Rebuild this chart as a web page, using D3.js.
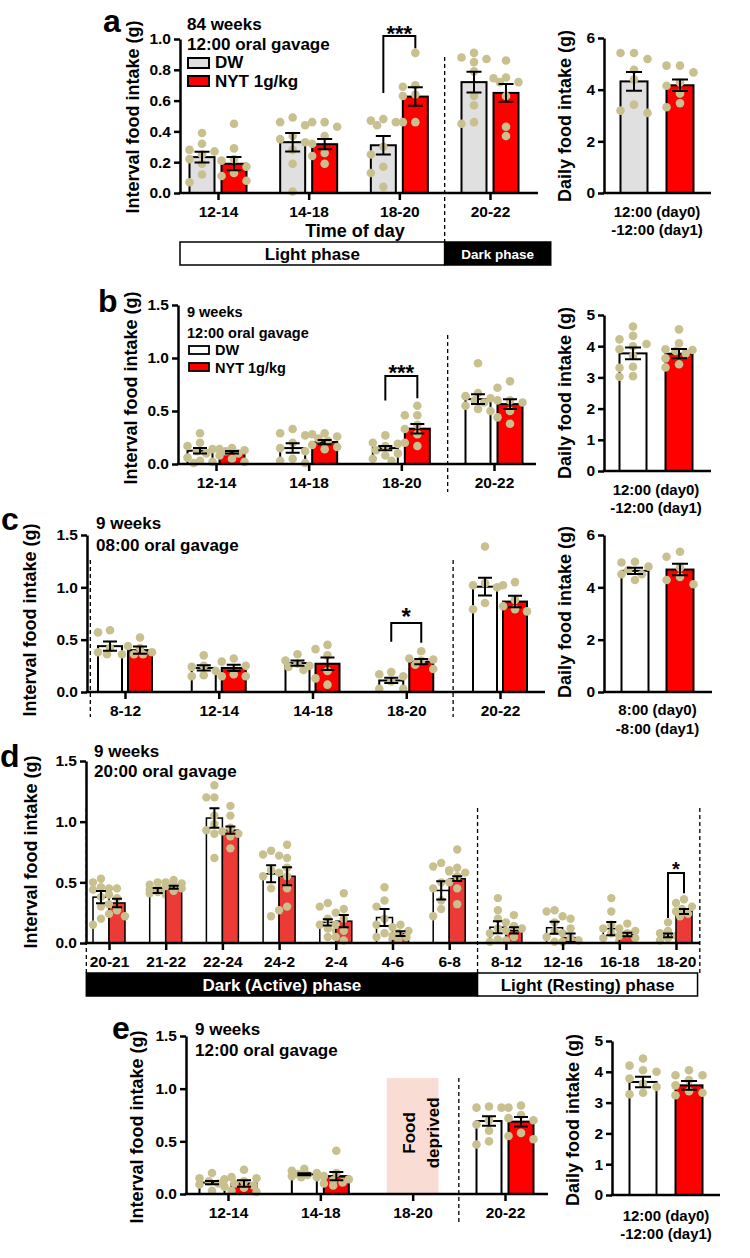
<!DOCTYPE html>
<html>
<head>
<meta charset="utf-8">
<script src="https://cdn.jsdelivr.net/npm/d3@7"></script>
<style>
  body { margin: 0; background: #fff; }
  svg text { font-family: "Liberation Sans", Arial, sans-serif; font-weight: 700; }
</style>
</head>
<body>
<script>
// ---------- panel a : 84 weeks, 12:00 gavage ----------
const catsA = ['12-14', '14-18', '18-20', '20-22'];
const dwMeanA = [0.233, 0.33, 0.31, 0.72];
const dwSemA = [0.035, 0.06, 0.06, 0.067];
const nytMeanA = [0.19, 0.317, 0.626, 0.65];
const nytSemA = [0.043, 0.033, 0.06, 0.058];
const dwPtsA = [[0.39, 0.32, 0.28, 0.27, 0.25, 0.22, 0.19, 0.12, 0.07],
  [0.49, 0.46, 0.44, 0.37, 0.35, 0.33, 0.28, 0.19, 0.01],
  [0.48, 0.47, 0.46, 0.44, 0.30, 0.25, 0.17, 0.13, 0.04],
  [0.91, 0.88, 0.87, 0.85, 0.79, 0.63, 0.57, 0.46, 0.45]];
const nytPtsA = [[0.45, 0.29, 0.22, 0.21, 0.17, 0.13, 0.11, 0.08],
  [0.46, 0.46, 0.43, 0.37, 0.32, 0.26, 0.24, 0.19],
  [0.91, 0.70, 0.69, 0.64, 0.63, 0.46, 0.46],
  [0.86, 0.75, 0.745, 0.72, 0.72, 0.63, 0.43, 0.37]];
const sigA = ['18-20', '***', 1.02, 0.65, 0.94];
const dailyMeanA = [4.32, 4.17];
const dailySemA = [0.36, 0.22];
const dailyPtsA = [[5.42, 5.42, 5.19, 4.77, 4.39, 3.42, 3.19, 3.10],
  [4.93, 4.93, 4.67, 4.28, 4.15, 3.85, 3.48, 3.32]];

// ---------- panel b : 9 weeks, 12:00 gavage ----------
const catsB = ['12-14', '14-18', '18-20', '20-22'];
const dwMeanB = [0.125, 0.15, 0.15, 0.612];
const dwSemB = [0.025, 0.045, 0.02, 0.045];
const nytMeanB = [0.11, 0.207, 0.333, 0.565];
const nytSemB = [0.012, 0.02, 0.045, 0.045];
const dwPtsB = [[0.29, 0.2, 0.17, 0.14, 0.12, 0.1, 0.06, 0.03, 0.02, 0.01],
  [0.33, 0.29, 0.27, 0.2, 0.15, 0.12, 0.05, 0.03, 0.01],
  [0.27, 0.2, 0.19, 0.17, 0.13, 0.1, 0.08, 0.05, 0.03],
  [0.95, 0.67, 0.64, 0.62, 0.6, 0.58, 0.55, 0.52, 0.5]];
const nytPtsB = [[0.15, 0.14, 0.13, 0.12, 0.1, 0.08, 0.05, 0.02],
  [0.29, 0.28, 0.26, 0.24, 0.22, 0.18, 0.16, 0.14],
  [0.55, 0.46, 0.46, 0.37, 0.33, 0.28, 0.2, 0.17],
  [0.78, 0.72, 0.6, 0.6, 0.58, 0.5, 0.44, 0.38]];
const sigB = ['18-20', '***', 0.83, 0.60, 0.62];
const dailyMeanB = [3.77, 3.76];
const dailySemB = [0.19, 0.15];
const dailyPtsB = [[4.63, 4.33, 4.22, 4.07, 4.0, 3.9, 3.69, 3.34, 3.31, 3.04, 3.02],
  [4.54, 4.09, 3.9, 3.88, 3.85, 3.77, 3.61, 3.42, 3.32]];

// ---------- panel c : 9 weeks, 08:00 gavage ----------
const catsC = ['8-12', '12-14', '14-18', '18-20', '20-22'];
const dwMeanC = [0.438, 0.23, 0.276, 0.11, 1.006];
const dwSemC = [0.045, 0.025, 0.025, 0.025, 0.085];
const nytMeanC = [0.40, 0.23, 0.27, 0.29, 0.864];
const nytSemC = [0.035, 0.03, 0.06, 0.025, 0.055];
const dwPtsC = [[0.59, 0.57, 0.42, 0.38, 0.36, 0.36],
  [0.35, 0.25, 0.24, 0.2, 0.16, 0.15],
  [0.36, 0.3, 0.27, 0.25, 0.24, 0.21],
  [0.19, 0.17, 0.15, 0.1, 0.03, 0.03],
  [1.39, 1.04, 1.02, 1.0, 0.85, 0.79]];
const nytPtsC = [[0.52, 0.44, 0.42, 0.38, 0.36, 0.36],
  [0.32, 0.29, 0.25, 0.17, 0.15, 0.15],
  [0.45, 0.41, 0.35, 0.2, 0.13, 0.07],
  [0.39, 0.32, 0.31, 0.3, 0.26, 0.22],
  [1.05, 1.02, 0.88, 0.82, 0.79, 0.77]];
const sigC = ['18-20', '*', 0.66, 0.48, 0.47];
const dailyMeanC = [4.63, 4.68];
const dailySemC = [0.12, 0.22];
const dailyPtsC = [[4.98, 4.95, 4.79, 4.66, 4.5, 4.5, 4.28],
  [5.36, 5.17, 4.76, 4.4, 4.28, 4.12]];

// ---------- panel d : 9 weeks, 20:00 gavage ----------
const catsD = ['20-21', '21-22', '22-24', '24-2', '2-4', '4-6', '6-8', '8-12', '12-16', '16-18', '18-20'];
const dwMeanD = [0.378, 0.433, 1.03, 0.57, 0.17, 0.21, 0.433, 0.13, 0.126, 0.118, 0.063];
const dwSemD = [0.05, 0.02, 0.08, 0.07, 0.025, 0.07, 0.075, 0.05, 0.05, 0.055, 0.015];
const nytMeanD = [0.33, 0.46, 0.93, 0.55, 0.18, 0.077, 0.53, 0.104, 0.044, 0.07, 0.26];
const nytSemD = [0.035, 0.012, 0.03, 0.075, 0.05, 0.02, 0.02, 0.025, 0.035, 0.015, 0.02];
const dwPtsD = [[0.53, 0.5, 0.46, 0.45, 0.44, 0.38, 0.3, 0.2, 0.15],
  [0.5, 0.48, 0.46, 0.45, 0.44, 0.43, 0.42, 0.41, 0.40],
  [1.3, 1.2, 1.2, 1.05, 0.98, 0.93, 0.9, 0.7],
  [0.76, 0.73, 0.72, 0.6, 0.55, 0.45, 0.22],
  [0.33, 0.3, 0.2, 0.15, 0.12, 0.1, 0.05],
  [0.46, 0.35, 0.3, 0.2, 0.15, 0.08, 0.05, 0.03],
  [0.66, 0.63, 0.6, 0.5, 0.45, 0.35, 0.28, 0.22],
  [0.37, 0.27, 0.2, 0.12, 0.08, 0.03, 0.01],
  [0.27, 0.26, 0.22, 0.17, 0.1, 0.05, 0.01],
  [0.37, 0.26, 0.15, 0.12, 0.08, 0.04, 0.02],
  [0.17, 0.1, 0.08, 0.06, 0.04, 0.02]];
const nytPtsD = [[0.45, 0.4, 0.37, 0.32, 0.27, 0.24, 0.22],
  [0.52, 0.5, 0.49, 0.48, 0.47, 0.45, 0.43],
  [1.13, 1.05, 0.95, 0.92, 0.9, 0.88, 0.78],
  [0.81, 0.7, 0.62, 0.58, 0.55, 0.45, 0.3, 0.27],
  [0.41, 0.28, 0.25, 0.2, 0.15, 0.1, 0.05, 0.02],
  [0.15, 0.13, 0.1, 0.08, 0.06, 0.05, 0.03],
  [0.77, 0.62, 0.59, 0.58, 0.55, 0.5, 0.45, 0.32],
  [0.23, 0.17, 0.14, 0.12, 0.1, 0.05, 0.02],
  [0.2, 0.12, 0.08, 0.04, 0.02, 0.01],
  [0.16, 0.12, 0.1, 0.08, 0.06, 0.04],
  [0.36, 0.33, 0.3, 0.28, 0.26, 0.24, 0.22]];
const sigD = ['18-20', '*', 0.577, 0.206, 0.41];

// ---------- panel e : 9 weeks, 12:00 gavage, food deprived 18-20 ----------
const catsE = ['12-14', '14-18', '18-20', '20-22'];
const dwMeanE = [0.108, 0.187, null, 0.693];
const dwSemE = [0.015, 0.01, null, 0.045];
const nytMeanE = [0.10, 0.17, null, 0.687];
const nytSemE = [0.03, 0.04, null, 0.045];
const dwPtsE = [[0.2, 0.15, 0.14, 0.12, 0.1, 0.09, 0.07, 0.03],
  [0.24, 0.22, 0.2, 0.19, 0.18, 0.17, 0.16, 0.16],
  [],
  [0.83, 0.82, 0.82, 0.7, 0.66, 0.6, 0.5, 0.47]];
const nytPtsE = [[0.23, 0.16, 0.15, 0.12, 0.1, 0.08, 0.06, 0.03, 0.02],
  [0.41, 0.2, 0.17, 0.14, 0.13, 0.11, 0.1, 0.08],
  [],
  [0.84, 0.82, 0.75, 0.72, 0.7, 0.58, 0.55, 0.52]];
const deprivedE = ['18-20', 1.10];
const dailyMeanE = [3.67, 3.56];
const dailySemE = [0.17, 0.14];
const dailyPtsE = [[4.43, 4.2, 4.05, 4.0, 3.78, 3.62, 3.51, 3.32, 3.27],
  [4.05, 3.89, 3.89, 3.73, 3.56, 3.37, 3.32, 3.24]];

const RED = '#ff0000';
const DOT = '#c9c08f';

const svg = d3.select('body').append('svg')
  .attr('width', 750)
  .attr('height', 1258)
  .style('background-color', 'white');

function txt(x, y, s, size, opt) {
  opt = opt || {};
  const t = svg.append('text')
    .attr('x', x).attr('y', y)
    .attr('font-size', size)
    .attr('text-anchor', opt.anchor || 'start')
    .attr('fill', opt.fill || '#000')
    .text(s);
  if (opt.rot) t.attr('transform', `rotate(-90,${x},${y})`);
  return t;
}

// spread dots sideways like prism does (deterministic, no random)
function spread(vals, y, half, r) {
  const placed = [];
  const cands = [0, -1, 1, -0.5, 0.5, -0.75, 0.75, -0.25, 0.25];
  vals.slice().sort((a, b) => b - a).forEach(v => {
    const py = y(v);
    let best = 0, bestOv = Infinity;
    for (const k of cands) {
      const c = k * half;
      let ov = 0;
      placed.forEach(p => {
        const dd = Math.hypot(p.dx - c, p.py - py);
        if (dd < 2 * r) ov += 2 * r - dd;
      });
      if (ov === 0) { best = c; bestOv = 0; break; }
      if (ov < bestOv) { bestOv = ov; best = c; }
    }
    placed.push({ v: v, dx: best, py: py });
  });
  return placed;
}

function yAxis(g, y, ticks, fmt, size) {
  g.call(d3.axisLeft(y).tickValues(ticks).tickFormat(d3.format(fmt))
      .tickSize(6).tickPadding(3).tickSizeOuter(0))
    .attr('font-family', null).attr('font-size', null);
  g.select('.domain').attr('stroke-width', 2.5);
  g.selectAll('.tick line').attr('stroke-width', 2.5);
  g.selectAll('.tick text').attr('font-size', size).attr('fill', '#000');
}

// one group of bars + dots + error bars
function drawSeries(g, x, y, cats, means, sems, pts, off, bw, fill, cap, r, sw) {
  cats.forEach((c, i) => {
    if (means[i] == null) return;
    const cx = x(c) + off;
    g.append('rect')
      .attr('x', cx - bw / 2).attr('y', y(means[i]))
      .attr('width', bw).attr('height', y(0) - y(means[i]))
      .attr('fill', fill).attr('stroke', '#000').attr('stroke-width', sw);
    spread(pts[i], y, bw / 2, r).forEach(p => {
      g.append('circle').attr('cx', cx + p.dx).attr('cy', p.py).attr('r', r).attr('fill', DOT);
    });
    const hi = y(means[i] + sems[i]), lo = y(means[i] - sems[i]);
    g.append('path')
      .attr('d', `M${cx},${lo}V${hi}M${cx - cap / 2},${hi}H${cx + cap / 2}M${cx - cap / 2},${lo}H${cx + cap / 2}`)
      .attr('stroke', '#000').attr('stroke-width', 2).attr('fill', 'none');
  });
}

function mainPanel(o) {
  const y = d3.scaleLinear().domain([0, o.yMax]).range([o.y0, o.yTop]);
  const x = d3.scalePoint().domain(o.cats).range(o.cx);
  const step = x.step();
  const xi = k => x(o.cats[0]) + k * step;
  const g = svg.append('g');

  // dashed separators
  o.dashed.forEach(k => {
    g.append('line').attr('x1', xi(k)).attr('x2', xi(k))
      .attr('y1', o.dashY[0]).attr('y2', o.dashY[1])
      .attr('stroke', '#000').attr('stroke-width', 1.3).attr('stroke-dasharray', '4,3');
  });

  if (o.deprived) {
    const dx = x(o.deprived[0]);
    g.append('rect').attr('x', dx - step * 0.28).attr('y', y(o.deprived[1]))
      .attr('width', step * 0.56).attr('height', y(0) - y(o.deprived[1]))
      .attr('fill', '#f9ddd5');
    txt(dx - 4, y(0.58), 'Food', 17, { anchor: 'middle', rot: true }).attr('dy', '0.35em');
    txt(dx + 20, y(0.58), 'deprived', 17, { anchor: 'middle', rot: true }).attr('dy', '0.35em');
  }

  drawSeries(g, x, y, o.cats, o.dw[0], o.dw[1], o.dw[2], -o.off, o.bw, o.dwFill, o.cap, o.r, o.sw);
  drawSeries(g, x, y, o.cats, o.nyt[0], o.nyt[1], o.nyt[2], o.off, o.bw, o.nytFill, o.cap, o.r, o.sw);

  // x axis
  g.append('line').attr('x1', o.x0 - 1.2).attr('x2', o.x1)
    .attr('y1', y(0)).attr('y2', y(0)).attr('stroke', '#000').attr('stroke-width', 2.5);
  const gx = g.append('g').attr('transform', `translate(0,${y(0)})`);
  gx.call(d3.axisBottom(x).tickSize(7).tickPadding(6).tickSizeOuter(0))
    .attr('font-family', null).attr('font-size', null);
  gx.select('.domain').remove();
  gx.selectAll('.tick line').attr('stroke-width', 2.5);
  gx.selectAll('.tick text').attr('font-size', o.xFont).attr('fill', '#000');

  const gy = g.append('g').attr('transform', `translate(${o.x0},0)`);
  yAxis(gy, y, o.ticks, '.1f', 15.5);

  // significance bracket
  if (o.sig) {
    const s = o.sig;
    const xl = x(s[0]) - o.off, xr = x(s[0]) + o.off;
    g.append('path')
      .attr('d', `M${xl},${y(s[3])}V${y(s[2])}H${xr}V${y(s[4])}`)
      .attr('stroke', '#000').attr('stroke-width', 2).attr('fill', 'none');
    txt(x(s[0]), y(s[2]) + o.sigDy, s[1], o.sigFont, { anchor: 'middle' });
  }
  return { x: x, y: y, xi: xi };
}

function dailyPanel(o) {
  const y = d3.scaleLinear().domain([0, o.yMax]).range([o.y0, o.yTop]);
  const x = d3.scalePoint().domain(['DW', 'NYT']).range(o.cx);
  const g = svg.append('g');
  drawSeries(g, x, y, ['DW'], [o.mean[0]], [o.sem[0]], [o.pts[0]], 0, 27, o.dwFill, 16, 4.3, 2);
  drawSeries(g, x, y, ['NYT'], [o.mean[1]], [o.sem[1]], [o.pts[1]], 0, 27, RED, 16, 4.3, 2);
  g.append('line').attr('x1', o.x0 - 1.2).attr('x2', o.x1)
    .attr('y1', y(0)).attr('y2', y(0)).attr('stroke', '#000').attr('stroke-width', 2.5);
  const gy = g.append('g').attr('transform', `translate(${o.x0},0)`);
  yAxis(gy, y, d3.range(0, o.yMax + 1, o.step), 'd', 15.5);
  const mid = (o.cx[0] + o.cx[1]) / 2;
  txt(mid, o.lab[0], o.labels[0], 15, { anchor: 'middle' });
  txt(mid, o.lab[1], o.labels[1], 15, { anchor: 'middle' });
  txt(o.titleX, o.titleY, 'Daily food intake (g)', 18, { anchor: 'middle', rot: true });
}

// ================= a =================
const pa = mainPanel({
  cats: catsA, cx: [218, 490], x0: 180, x1: 538, y0: 193, yTop: 39, yMax: 1.0,
  ticks: [0, 0.2, 0.4, 0.6, 0.8, 1.0], bw: 25, off: 16, cap: 15, r: 4.3, sw: 2, xFont: 15.5,
  dw: [dwMeanA, dwSemA, dwPtsA], nyt: [nytMeanA, nytSemA, nytPtsA],
  dwFill: '#e0e0e0', nytFill: RED, dashed: [2.5], dashY: [57, 242],
  sig: sigA, sigFont: 22, sigDy: 5
});
txt(103, 32, 'a', 32);
txt(133, 117, 'Interval food intake (g)', 18, { anchor: 'middle', rot: true }).attr('dy', '0.35em');
txt(187, 30, '84 weeks', 17);
txt(187, 50, '12:00 oral gavage', 17);
svg.append('rect').attr('x', 188).attr('y', 58).attr('width', 21).attr('height', 10)
  .attr('fill', '#e0e0e0').attr('stroke', '#000').attr('stroke-width', 2);
svg.append('rect').attr('x', 188).attr('y', 76).attr('width', 21).attr('height', 10)
  .attr('fill', RED).attr('stroke', '#000').attr('stroke-width', 2);
txt(215, 68, 'DW', 17);
txt(215, 87, 'NYT 1g/kg', 17);
txt(355, 237, 'Time of day', 18, { anchor: 'middle' });
{
  const xs = pa.xi(2.5), xe = pa.xi(3.67);
  svg.append('rect').attr('x', 180).attr('y', 242).attr('width', xs - 180).attr('height', 23)
    .attr('fill', '#fff').attr('stroke', '#000').attr('stroke-width', 1.5);
  svg.append('rect').attr('x', xs).attr('y', 242).attr('width', xe - xs).attr('height', 23)
    .attr('fill', '#000').attr('stroke', '#000').attr('stroke-width', 1.5);
  txt((180 + xs) / 2, 260, 'Light phase', 17, { anchor: 'middle' });
  txt((xs + xe) / 2, 259, 'Dark phase', 13.5, { anchor: 'middle', fill: '#fff' });
}
dailyPanel({
  x0: 604, x1: 711, y0: 193, yTop: 38, yMax: 6, step: 2, cx: [634, 680],
  mean: dailyMeanA, sem: dailySemA, pts: dailyPtsA, dwFill: '#e0e0e0',
  lab: [217, 235], labels: ['12:00 (day0)', '-12:00 (day1)'], titleX: 571, titleY: 116
});

// ================= b =================
mainPanel({
  cats: catsB, cx: [216, 494], x0: 178, x1: 536, y0: 464, yTop: 305, yMax: 1.5,
  ticks: [0, 0.5, 1.0, 1.5], bw: 25, off: 16, cap: 14, r: 4.3, sw: 2, xFont: 15.5,
  dw: [dwMeanB, dwSemB, dwPtsB], nyt: [nytMeanB, nytSemB, nytPtsB],
  dwFill: '#fff', nytFill: RED, dashed: [2.5], dashY: [335, 492],
  sig: sigB, sigFont: 22, sigDy: 4
});
txt(98, 312, 'b', 32);
txt(131, 388, 'Interval food intake (g)', 18, { anchor: 'middle', rot: true }).attr('dy', '0.35em');
txt(187, 317, '9 weeks', 14.5);
txt(187, 338, '12:00 oral gavage', 14.5);
svg.append('rect').attr('x', 189).attr('y', 346).attr('width', 20).attr('height', 8)
  .attr('fill', '#fff').attr('stroke', '#000').attr('stroke-width', 1.8);
svg.append('rect').attr('x', 189).attr('y', 363).attr('width', 20).attr('height', 8)
  .attr('fill', RED).attr('stroke', '#000').attr('stroke-width', 1.8);
txt(215, 355, 'DW', 14.5);
txt(215, 373, 'NYT 1g/kg', 14.5);
dailyPanel({
  x0: 604, x1: 711, y0: 471, yTop: 315, yMax: 5, step: 1, cx: [633, 679],
  mean: dailyMeanB, sem: dailySemB, pts: dailyPtsB, dwFill: '#fff',
  lab: [495, 513], labels: ['12:00 (day0)', '-12:00 (day1)'], titleX: 571, titleY: 393
});

// ================= c =================
mainPanel({
  cats: catsC, cx: [125, 500], x0: 87, x1: 545, y0: 692, yTop: 535, yMax: 1.5,
  ticks: [0, 0.5, 1.0, 1.5], bw: 24, off: 15, cap: 14, r: 4.3, sw: 2, xFont: 15.5,
  dw: [dwMeanC, dwSemC, dwPtsC], nyt: [nytMeanC, nytSemC, nytPtsC],
  dwFill: '#fff', nytFill: RED, dashed: [-0.37, 3.5], dashY: [560, 717],
  sig: sigC, sigFont: 24, sigDy: 2
});
txt(1, 530, 'c', 32);
txt(30, 620, 'Interval food intake (g)', 18, { anchor: 'middle', rot: true }).attr('dy', '0.35em');
txt(96, 529, '9 weeks', 17);
txt(96, 551, '08:00 oral gavage', 17);
dailyPanel({
  x0: 604, x1: 712, y0: 692, yTop: 535, yMax: 6, step: 2, cx: [635, 680],
  mean: dailyMeanC, sem: dailySemC, pts: dailyPtsC, dwFill: '#fff',
  lab: [715, 734], labels: ['8:00 (day0)', '-8:00 (day1)'], titleX: 571, titleY: 612
});

// ================= d =================
const pd = mainPanel({
  cats: catsD, cx: [109, 676], x0: 86, x1: 700, y0: 943, yTop: 761, yMax: 1.5,
  ticks: [0, 0.5, 1.0, 1.5], bw: 16, off: 8, cap: 10, r: 4.2, sw: 1.5, xFont: 15.5,
  dw: [dwMeanD, dwSemD, dwPtsD], nyt: [nytMeanD, nytSemD, nytPtsD],
  dwFill: '#fff', nytFill: '#ec3b36', dashed: [-0.4, 6.5, 10.42], dashY: [808, 973],
  sig: sigD, sigFont: 20, sigDy: 3
});
txt(0, 767, 'd', 32);
txt(31, 852, 'Interval food intake (g)', 18, { anchor: 'middle', rot: true }).attr('dy', '0.35em');
txt(94, 757, '9 weeks', 17);
txt(94, 777, '20:00 oral gavage', 17);
{
  const xa = pd.xi(-0.4), xb = pd.xi(6.5), xc = pd.xi(10.38);
  svg.append('rect').attr('x', xa).attr('y', 973).attr('width', xb - xa).attr('height', 23)
    .attr('fill', '#000').attr('stroke', '#000').attr('stroke-width', 1.5);
  svg.append('rect').attr('x', xb).attr('y', 973).attr('width', xc - xb).attr('height', 23)
    .attr('fill', '#fff').attr('stroke', '#000').attr('stroke-width', 1.5);
  txt((xa + xb) / 2, 991, 'Dark (Active) phase', 17, { anchor: 'middle', fill: '#fff' });
  txt((xb + xc) / 2, 991, 'Light (Resting) phase', 17, { anchor: 'middle' });
}

// ================= e =================
mainPanel({
  cats: catsE, cx: [228, 505], x0: 186, x1: 548, y0: 1194, yTop: 1036, yMax: 1.5,
  ticks: [0, 0.5, 1.0, 1.5], bw: 25, off: 16, cap: 14, r: 4.3, sw: 2, xFont: 15.5,
  dw: [dwMeanE, dwSemE, dwPtsE], nyt: [nytMeanE, nytSemE, nytPtsE],
  dwFill: '#fff', nytFill: RED, dashed: [2.5], dashY: [1078, 1222],
  deprived: deprivedE
});
txt(112, 1039, 'e', 32);
txt(137, 1127, 'Interval food intake (g)', 18, { anchor: 'middle', rot: true }).attr('dy', '0.35em');
txt(195, 1035, '9 weeks', 17);
txt(195, 1056, '12:00 oral gavage', 17);
dailyPanel({
  x0: 612, x1: 720, y0: 1195, yTop: 1041, yMax: 5, step: 1, cx: [643, 689],
  mean: dailyMeanE, sem: dailySemE, pts: dailyPtsE, dwFill: '#fff',
  lab: [1221, 1239], labels: ['12:00 (day0)', '-12:00 (day1)'], titleX: 579, titleY: 1120
});
</script>
</body>
</html>
